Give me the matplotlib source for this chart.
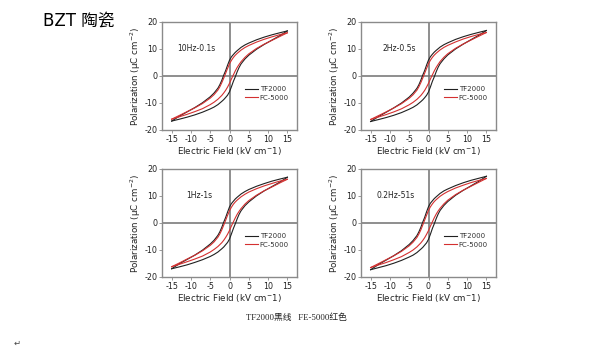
import matplotlib
matplotlib.use("Agg")
import matplotlib.pyplot as plt

plt.rcParams['axes.unicode_minus'] = False

# field values (kV/cm): descending branch and ascending branch
e_down = [15, 13, 11, 9, 7, 5, 4, 3, 2, 1.5, 1, 0.5, 0, -0.5, -1, -1.5, -2, -2.5, -3, -4, -5, -7, -9, -11, -13, -15]
e_up = [-15, -13, -11, -9, -7, -5, -4, -3, -2, -1.5, -1, -0.5, 0, 0.5, 1, 1.5, 2, 2.5, 3, 4, 5, 7, 9, 11, 13, 15]

panel_labels = ["10Hz-0.1s", "2Hz-0.5s", "1Hz-1s", "0.2Hz-51s"]
label_x = [-13.6, -12.0, -11.3, -13.6]

# TF2000 (black) polarization, uC/cm2
tf_down_10hz = [16.7, 16.0, 15.25, 14.4, 13.4, 12.2, 11.5, 10.6, 9.4, 8.75, 7.95, 7.1, 5.85, 4.0, 2.0, 0.3, -1.6, -3.2, -4.5, -6.3, -7.7, -9.9, -11.7, -13.3, -14.9, -16.7]
tf_up_10hz = [-16.7, -16.0, -15.25, -14.4, -13.4, -12.2, -11.5, -10.6, -9.4, -8.75, -7.95, -7.1, -5.85, -4.0, -2.0, -0.3, 1.6, 3.2, 4.5, 6.3, 7.7, 9.9, 11.7, 13.3, 14.9, 16.7]
tf_down_2hz = [16.85, 16.15, 15.4, 14.55, 13.55, 12.3, 11.6, 10.7, 9.5, 8.85, 8.05, 7.15, 5.9, 4.05, 2.0, 0.3, -1.6, -3.25, -4.55, -6.35, -7.8, -10.0, -11.8, -13.45, -15.05, -16.85]
tf_up_2hz = [-16.85, -16.15, -15.4, -14.55, -13.55, -12.3, -11.6, -10.7, -9.5, -8.85, -8.05, -7.15, -5.9, -4.05, -2.0, -0.3, 1.6, 3.25, 4.55, 6.35, 7.8, 10.0, 11.8, 13.45, 15.05, 16.85]
tf_down_1hz = [16.95, 16.25, 15.5, 14.6, 13.6, 12.4, 11.65, 10.75, 9.55, 8.9, 8.05, 7.2, 5.95, 4.05, 2.05, 0.3, -1.6, -3.25, -4.55, -6.4, -7.8, -10.05, -11.9, -13.5, -15.1, -16.95]
tf_up_1hz = [-16.95, -16.25, -15.5, -14.6, -13.6, -12.4, -11.65, -10.75, -9.55, -8.9, -8.05, -7.2, -5.95, -4.05, -2.05, -0.3, 1.6, 3.25, 4.55, 6.4, 7.8, 10.05, 11.9, 13.5, 15.1, 16.95]
tf_down_02hz = [17.3, 16.55, 15.8, 14.9, 13.85, 12.6, 11.9, 10.95, 9.7, 9.05, 8.2, 7.35, 6.05, 4.15, 2.05, 0.3, -1.65, -3.3, -4.65, -6.5, -7.95, -10.25, -12.1, -13.75, -15.4, -17.3]
tf_up_02hz = [-17.3, -16.55, -15.8, -14.9, -13.85, -12.6, -11.9, -10.95, -9.7, -9.05, -8.2, -7.35, -6.05, -4.15, -2.05, -0.3, 1.65, 3.3, 4.65, 6.5, 7.95, 10.25, 12.1, 13.75, 15.4, 17.3]

# FC-5000 (red) polarization, uC/cm2
fc_down_10hz = [16.0, 15.3, 14.5, 13.6, 12.55, 11.3, 10.55, 9.6, 8.4, 7.7, 6.85, 5.8, 4.5, 2.8, 1.0, -0.8, -2.5, -4.0, -5.2, -6.9, -8.2, -10.2, -11.8, -13.2, -14.6, -16.0]
fc_up_10hz = [-16.0, -15.1, -14.2, -13.2, -12.1, -10.6, -9.7, -8.6, -7.2, -6.3, -5.3, -4.1, -2.7, -1.1, 0.4, 1.9, 3.2, 4.3, 5.3, 6.9, 8.2, 10.2, 11.8, 13.2, 14.6, 16.0]
fc_down_2hz = [16.1, 15.4, 14.6, 13.7, 12.6, 11.35, 10.6, 9.65, 8.45, 7.75, 6.9, 5.85, 4.55, 2.8, 1.0, -0.8, -2.5, -4.0, -5.25, -6.95, -8.25, -10.25, -11.85, -13.3, -14.7, -16.1]
fc_up_2hz = [-16.1, -15.2, -14.3, -13.3, -12.15, -10.65, -9.75, -8.65, -7.25, -6.35, -5.35, -4.1, -2.7, -1.1, 0.4, 1.9, 3.2, 4.3, 5.35, 6.95, 8.25, 10.25, 11.85, 13.3, 14.7, 16.1]
fc_down_1hz = [16.2, 15.5, 14.65, 13.75, 12.7, 11.45, 10.65, 9.7, 8.5, 7.8, 6.95, 5.85, 4.55, 2.85, 1.0, -0.8, -2.55, -4.05, -5.25, -7.0, -8.3, -10.3, -11.95, -13.35, -14.8, -16.2]
fc_up_1hz = [-16.2, -15.3, -14.35, -13.35, -12.25, -10.75, -9.8, -8.7, -7.3, -6.4, -5.35, -4.15, -2.75, -1.1, 0.4, 1.9, 3.25, 4.35, 5.35, 7.0, 8.3, 10.3, 11.95, 13.35, 14.8, 16.2]
fc_down_02hz = [16.5, 15.75, 14.95, 14.0, 12.95, 11.65, 10.85, 9.9, 8.65, 7.95, 7.05, 6.0, 4.65, 2.9, 1.05, -0.8, -2.6, -4.1, -5.35, -7.1, -8.45, -10.5, -12.15, -13.6, -15.05, -16.5]
fc_up_02hz = [-16.5, -15.55, -14.65, -13.6, -12.45, -10.9, -10.0, -8.85, -7.4, -6.5, -5.45, -4.2, -2.8, -1.15, 0.4, 1.95, 3.3, 4.45, 5.45, 7.1, 8.45, 10.5, 12.15, 13.6, 15.05, 16.5]

tf_down = [tf_down_10hz, tf_down_2hz, tf_down_1hz, tf_down_02hz]
tf_up = [tf_up_10hz, tf_up_2hz, tf_up_1hz, tf_up_02hz]
fc_down = [fc_down_10hz, fc_down_2hz, fc_down_1hz, fc_down_02hz]
fc_up = [fc_up_10hz, fc_up_2hz, fc_up_1hz, fc_up_02hz]

W, H = 616, 349
fig = plt.figure(figsize=(W / 100, H / 100), dpi=100)
fig.patch.set_facecolor("white")

# axes boxes in pixels: left, top, right, bottom
boxes = [(162, 22, 297, 130), (361, 22, 496, 130),
         (162, 169, 297, 277), (361, 169, 496, 277)]

black = "#202020"
red = "#d43030"
spine_col = "#8a8a8a"
txt_col = "#222222"

for i, (l, t, r, b) in enumerate(boxes):
    ax = fig.add_axes([l / W, 1 - b / H, (r - l) / W, (b - t) / H])
    ax.axvline(0, color="#707070", lw=1.1, zorder=1)
    ax.axhline(0, color="#707070", lw=1.1, zorder=1)
    ax.plot(e_down, tf_down[i], color=black, lw=0.8, label="TF2000", zorder=3)
    ax.plot(e_up, tf_up[i], color=black, lw=0.8, zorder=3)
    ax.plot(e_down, fc_down[i], color=red, lw=0.8, label="FC-5000", zorder=3)
    ax.plot(e_up, fc_up[i], color=red, lw=0.8, zorder=3)
    ax.set_xlim(-17.5, 17.5)
    ax.set_ylim(-20, 20)
    ax.set_xticks([-15, -10, -5, 0, 5, 10, 15])
    ax.set_yticks([-20, -10, 0, 10, 20])
    ax.tick_params(labelsize=5.8, length=2, width=0.6, color=spine_col, pad=1.5, labelcolor=txt_col)
    for s in ax.spines.values():
        s.set_color(spine_col)
        s.set_linewidth(1.0)
    ax.set_xlabel("Electric Field (kV cm$^{-}$1)", fontsize=6.3, labelpad=1, color=txt_col)
    ax.set_ylabel("Polarization (\u03bcC cm$^{-2}$)", fontsize=6.3, labelpad=0.5, color=txt_col)
    ax.text(label_x[i], 10.3, panel_labels[i], fontsize=5.5, va="center", ha="left", color=txt_col)
    ax.legend(loc="upper left", bbox_to_anchor=(0.58, 0.45), frameon=False, fontsize=5,
              handlelength=1.8, handletextpad=0.3, labelspacing=0.35, borderpad=0.2,
              labelcolor="#333333")

fig.text(43 / W, 1 - 21 / H, "BZT 陶瓷", fontsize=12, va="center", ha="left",
         family=["DejaVu Sans", "Noto Sans CJK SC"])
fig.text(296 / W, 1 - 318 / H, "TF2000黑线   FE-5000红色", fontsize=6.3, va="center", ha="center",
         family=["Liberation Serif", "Noto Sans CJK SC"], color=txt_col)
fig.text(14 / W, 1 - 343 / H, "\u21b5", fontsize=6, va="center", ha="left", color="#444444")

fig.savefig("out.png", dpi=100)
